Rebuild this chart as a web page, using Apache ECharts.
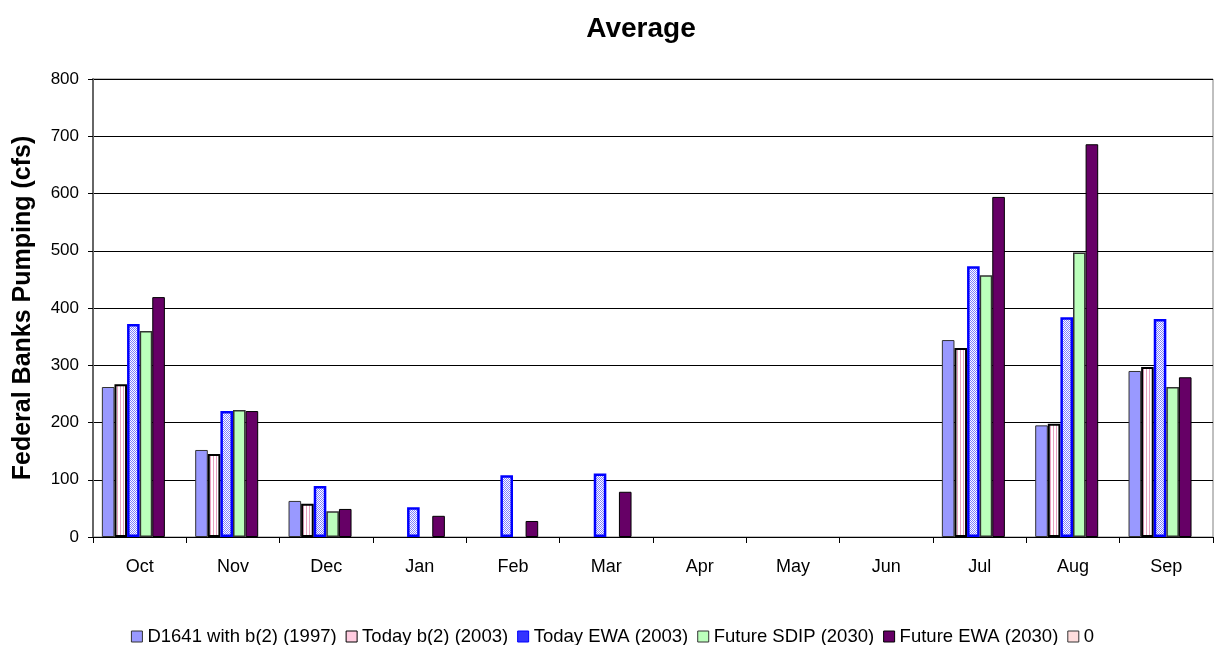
<!DOCTYPE html>
<html><head><meta charset="utf-8">
<script src="https://cdn.jsdelivr.net/npm/echarts@6/dist/echarts.min.js"></script>
<style>html,body{margin:0;padding:0;background:#fff}#c{width:1225px;height:645px}</style>
</head><body><div id="c"></div>
<script>
const categories = ['Oct','Nov','Dec','Jan','Feb','Mar','Apr','May','Jun','Jul','Aug','Sep'];
const seriesNames = ['D1641 with b(2) (1997)','Today b(2) (2003)','Today EWA (2003)','Future SDIP (2030)','Future EWA (2030)','0'];
const d1641 = [262,152,63,0,0,0,0,0,0,344,195,290];
const todayB2 = [267,145,58,0,0,0,0,0,0,330,198,297];
const todayEWA = [372,220,89,52,108,111,0,0,0,473,384,381];
const futureSDIP = [360,222,45,0,0,0,0,0,0,457,497,262];
const futureEWA = [419,220,49,37,28,79,0,0,0,594,686,279];
const zeroSeries = [0,0,0,0,0,0,0,0,0,0,0,0];
const yTicks = {min:0,max:800,interval:100};

function stripePattern(){
  const c=document.createElement('canvas');c.width=3;c.height=3;
  const x=c.getContext('2d');x.fillStyle='#fff';x.fillRect(0,0,3,3);
  x.fillStyle='#e8a0c0';x.fillRect(0,0,1,3);return c;
}
function checkPattern(){
  const c=document.createElement('canvas');c.width=2;c.height=2;
  const x=c.getContext('2d');x.fillStyle='#ffffff';x.fillRect(0,0,2,2);
  x.fillStyle='#7f7fff';x.fillRect(0,0,1,1);x.fillRect(1,1,1,1);return c;
}
const styles = [
  {color:'#9999FF',borderColor:'#333333',borderWidth:1},
  {color:{image:stripePattern(),repeat:'repeat'},borderColor:'#000000',borderWidth:2},
  {color:{image:checkPattern(),repeat:'repeat'},borderColor:'#0000FF',borderWidth:2.5},
  {color:'#BBFFBB',borderColor:'#333333',borderWidth:1.5},
  {color:'#660066',borderColor:'#000000',borderWidth:1},
  {color:'#FFDDDD',borderColor:'#333333',borderWidth:1}
];
const legendColors = ['#9999FF','#FFCCE0','#3333FF','#BBFFBB','#660066','#FFDDDD'];
const legendBorders = ['#333','#000','#0000FF','#333','#000','#333'];
const datas = [d1641,todayB2,todayEWA,futureSDIP,futureEWA,zeroSeries];
const series = datas.map((d,i)=>({
  name:seriesNames[i],type:'bar',data:d.map(v=>v===0?'-':v),barGap:'0%',barCategoryGap:'19%',
  itemStyle:styles[i]
}));
const chart = echarts.init(document.getElementById('c'),null,{renderer:'canvas'});
chart.setOption({
  animation:false,
  title:{text:'Average',left:636,textAlign:'center',top:10,textStyle:{fontFamily:'Liberation Sans',fontSize:28,fontWeight:'bold',color:'#000'}},
  grid:{left:93,right:12,top:79,bottom:108,show:true,borderColor:'#808080',borderWidth:1},
  legend:{top:622,left:'center',itemWidth:11,itemHeight:11,itemGap:9,
    textStyle:{fontFamily:'Liberation Sans',fontSize:18.5,color:'#000',padding:[0,0,0,0]},
    data:seriesNames.map((n,i)=>({name:n,icon:'rect',itemStyle:{color:legendColors[i],borderColor:legendBorders[i],borderWidth:1}}))},
  xAxis:{type:'category',data:categories,
    axisLine:{lineStyle:{color:'#000',width:1}},
    axisTick:{show:true,length:6,lineStyle:{color:'#000'}},
    axisLabel:{fontFamily:'Liberation Sans',fontSize:18,color:'#000',margin:21}},
  yAxis:{type:'value',min:yTicks.min,max:yTicks.max,interval:yTicks.interval,
    name:'Federal Banks Pumping (cfs)',nameLocation:'middle',nameGap:57,
    nameTextStyle:{fontFamily:'Liberation Sans',fontSize:25,fontWeight:'bold',color:'#000'},
    axisLine:{show:true,lineStyle:{color:'#666',width:2}},
    axisTick:{show:true,length:5,lineStyle:{color:'#000'}},
    axisLabel:{fontFamily:'Liberation Sans',fontSize:17,color:'#000',margin:14},
    splitLine:{lineStyle:{color:'#000',width:1}}},
  series:series
});
</script></body></html>
